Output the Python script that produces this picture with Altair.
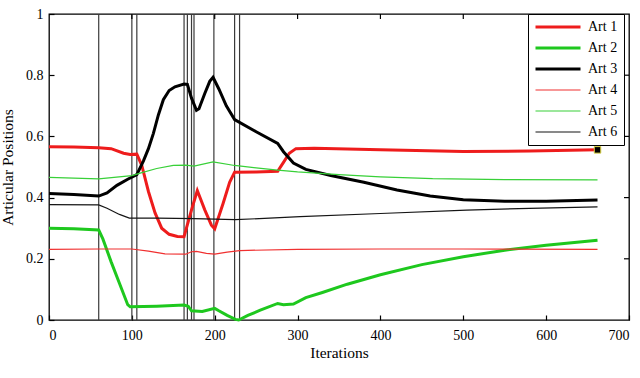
import altair as alt
import pandas as pd

# Articulation trajectories over the optimisation iterations
series_names = ["Art 1", "Art 2", "Art 3", "Art 4", "Art 5", "Art 6"]
series_colors = ["#ee1c1c", "#1ec81e", "#000000", "#f03030", "#38d038", "#151515"]
series_widths = [3.0, 3.0, 3.0, 1.2, 1.2, 1.2]

art1_iter = [0, 30, 60, 75, 90, 98, 106, 112, 120, 128, 136, 145, 155, 163, 172, 179,
             188, 196, 200, 210, 218, 224, 250, 276, 283, 290, 298, 320, 400, 500, 580, 662]
art1_pos = [0.566, 0.565, 0.563, 0.560, 0.545, 0.541, 0.542, 0.505, 0.42, 0.35, 0.30, 0.28,
            0.273, 0.272, 0.36, 0.423, 0.36, 0.31, 0.298, 0.38, 0.45, 0.483, 0.484, 0.486,
            0.515, 0.545, 0.560, 0.561, 0.556, 0.551, 0.552, 0.556]

art2_iter = [0, 30, 60, 65, 75, 85, 95, 98, 130, 163, 168, 172, 185, 200, 205, 215, 225,
             229, 240, 255, 276, 283, 295, 310, 330, 360, 400, 450, 500, 550, 600, 662]
art2_pos = [0.300, 0.298, 0.294, 0.265, 0.19, 0.12, 0.05, 0.043, 0.045, 0.049, 0.045, 0.03,
            0.028, 0.038, 0.03, 0.015, 0.002, 0.0, 0.015, 0.032, 0.054, 0.05, 0.052, 0.073,
            0.09, 0.117, 0.148, 0.181, 0.207, 0.228, 0.244, 0.261]

art3_iter = [0, 30, 60, 70, 82, 95, 106, 114, 120, 126, 132, 138, 145, 152, 163, 167, 172,
             178, 181, 188, 194, 198, 205, 214, 224, 250, 276, 283, 295, 310, 340, 380, 420,
             460, 500, 550, 600, 662]
art3_pos = [0.413, 0.41, 0.405, 0.415, 0.44, 0.46, 0.475, 0.52, 0.56, 0.61, 0.67, 0.72, 0.75,
            0.762, 0.771, 0.77, 0.725, 0.685, 0.69, 0.74, 0.78, 0.793, 0.755, 0.70, 0.655,
            0.615, 0.577, 0.55, 0.513, 0.492, 0.472, 0.45, 0.425, 0.405, 0.393, 0.388, 0.388,
            0.392]

art4_iter = [0, 60, 100, 120, 140, 165, 172, 178, 190, 200, 215, 230, 300, 400, 500, 662]
art4_pos = [0.231, 0.232, 0.232, 0.225, 0.216, 0.215, 0.223, 0.224, 0.218, 0.215, 0.222,
            0.227, 0.231, 0.232, 0.232, 0.231]

art5_iter = [0, 60, 100, 110, 130, 150, 165, 175, 198, 224, 250, 276, 300, 350, 400, 463,
             550, 662]
art5_pos = [0.466, 0.461, 0.472, 0.48, 0.495, 0.505, 0.506, 0.503, 0.517, 0.505, 0.497, 0.49,
            0.484, 0.475, 0.468, 0.462, 0.459, 0.458]

art6_iter = [0, 60, 70, 85, 97, 130, 175, 225, 260, 303, 400, 504, 580, 662]
art6_pos = [0.377, 0.376, 0.365, 0.345, 0.333, 0.333, 0.331, 0.328, 0.332, 0.338, 0.348,
            0.359, 0.365, 0.37]

# iterations at which the active set changed
switch_iters = [60, 100, 106, 163, 167, 172, 175, 199, 224, 230]

x_ticks = [0, 100, 200, 300, 400, 500, 600, 700]
y_ticks = [0, 0.2, 0.4, 0.6, 0.8, 1]

FONT = "Liberation Serif"
PLOT_W, PLOT_H, TICK = 580, 306, 5
X_MAX, Y_MAX = 700, 1

iters = [art1_iter, art2_iter, art3_iter, art4_iter, art5_iter, art6_iter]
positions = [art1_pos, art2_pos, art3_pos, art4_pos, art5_pos, art6_pos]
rows = []
for name, xs, ys in zip(series_names, iters, positions):
    for x, y in zip(xs, ys):
        rows.append({"series": name, "iter": x, "pos": y})
traj = pd.DataFrame(rows)
switches = pd.DataFrame({"iter": switch_iters})
end_point = pd.DataFrame({"iter": [art1_iter[-1]], "pos": [art1_pos[-1]]})

# mirrored inward ticks on the top and right edges, expressed in data units
tick_len_y = TICK * Y_MAX / PLOT_H
tick_len_x = TICK * X_MAX / PLOT_W
top_ticks = pd.DataFrame({"iter": x_ticks[1:-1],
                          "pos": [Y_MAX] * (len(x_ticks) - 2),
                          "pos_end": [Y_MAX - tick_len_y] * (len(x_ticks) - 2)})
right_ticks = pd.DataFrame({"pos": y_ticks[1:-1],
                            "iter": [X_MAX] * (len(y_ticks) - 2),
                            "iter_end": [X_MAX - tick_len_x] * (len(y_ticks) - 2)})

x_scale = alt.Scale(domain=[0, X_MAX], nice=False, zero=False)
y_scale = alt.Scale(domain=[0, Y_MAX], nice=False)

legend = alt.Legend(
    orient="none", legendX=479, legendY=0, title=None,
    symbolType="stroke", symbolSize=2025, clipHeight=14, rowPadding=7,
    padding=6, labelOffset=6, labelFont=FONT, labelFontSize=14,
    labelColor="black", strokeColor="black", fillColor="white",
)

axis_style = dict(domain=False, grid=False, offset=-TICK, tickSize=TICK, tickColor="black",
                  tickWidth=1.2, labelFont=FONT, labelFontSize=14, labelColor="black",
                  titleFont=FONT, titleFontSize=15.5, titleFontWeight="normal",
                  titleColor="black")

# one shared definition per axis, reused by every layer so the layers merge cleanly
x_axis = alt.Axis(values=x_ticks, title="Iterations", format="d",
                  labelPadding=8, titlePadding=3, **axis_style)
y_axis = alt.Axis(values=y_ticks, title="Articular Positions", format="~g",
                  labelPadding=6, titlePadding=10, **axis_style)

x_enc = alt.X("iter:Q", scale=x_scale, axis=x_axis)
y_enc = alt.Y("pos:Q", scale=y_scale, axis=y_axis)

rules = alt.Chart(switches).mark_rule(color="#3a3a3a", strokeWidth=1.2).encode(x=x_enc)

lines = alt.Chart(traj).mark_line().encode(
    x=x_enc,
    y=y_enc,
    color=alt.Color("series:N", scale=alt.Scale(domain=series_names, range=series_colors),
                    legend=legend),
    strokeWidth=alt.StrokeWidth("series:N",
                                scale=alt.Scale(type="ordinal", domain=series_names,
                                                range=series_widths),
                                legend=legend),
)

top_tick_marks = alt.Chart(top_ticks).mark_rule(color="black", strokeWidth=1.2).encode(
    x=x_enc, y=y_enc, y2="pos_end:Q",
)
right_tick_marks = alt.Chart(right_ticks).mark_rule(color="black", strokeWidth=1.2).encode(
    y=y_enc, x=x_enc, x2="iter_end:Q",
)

end_marker = alt.Chart(end_point).mark_square(
    size=42, fill="black", stroke="#d8d040", strokeWidth=1, opacity=1
).encode(x=x_enc, y=y_enc)

chart = alt.layer(rules, top_tick_marks, right_tick_marks, lines, end_marker).properties(
    width=PLOT_W, height=PLOT_H,
    autosize=alt.AutoSizeParams(type="none"),
    padding={"left": 49, "top": 14, "right": 11, "bottom": 58},
    background="white",
).configure(
    font=FONT
).configure_axis(
    labelFont=FONT, titleFont=FONT
).configure_view(
    stroke="black", strokeWidth=1.3
)

chart.save("out.html", embed_options={"renderer": "svg", "actions": False})
